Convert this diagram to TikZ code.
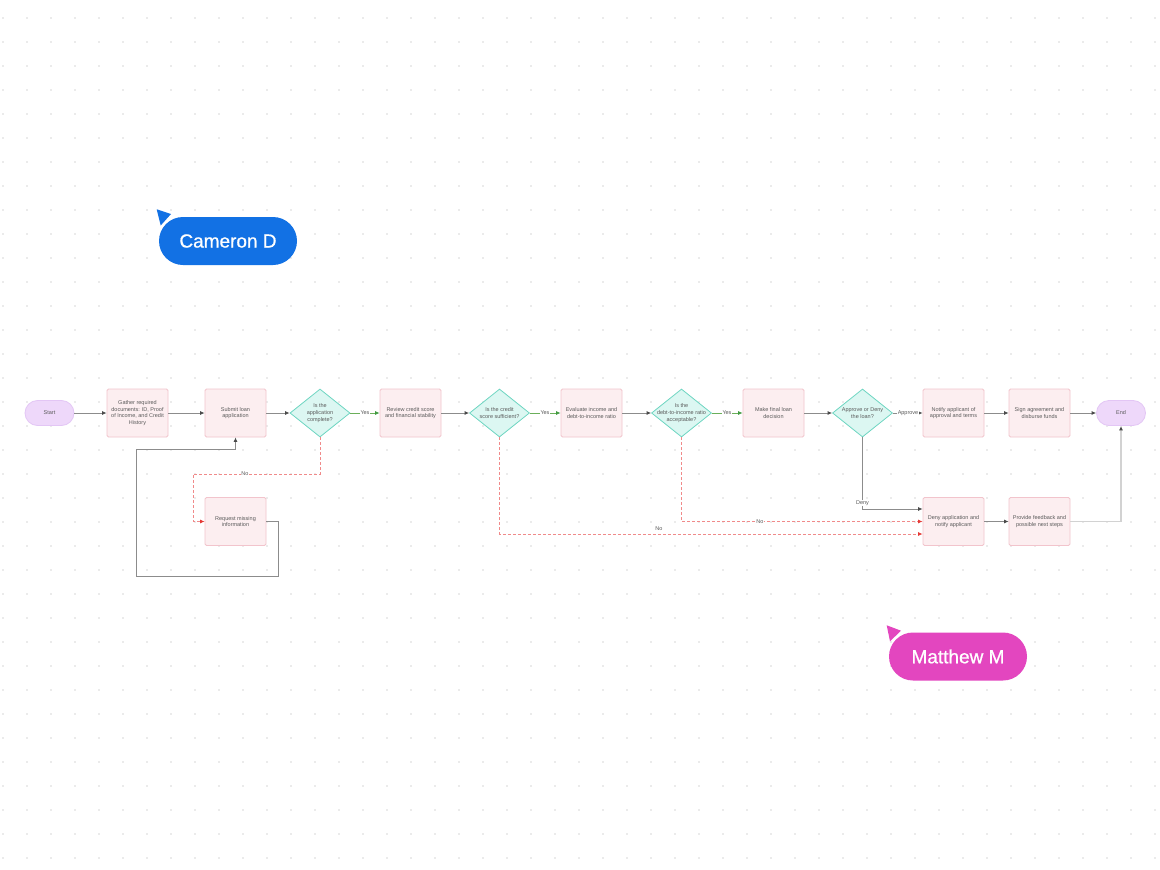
\documentclass[tikz,border=0pt]{standalone}
\usepackage{fontspec}
\setmainfont{Liberation Sans}
\newfontfamily\tagfont[FakeBold=0.8]{Liberation Sans}
\usetikzlibrary{arrows.meta,shapes.geometric,calc}
\definecolor{boxfill}{HTML}{FCEEF0}
\definecolor{boxline}{HTML}{F2C4CC}
\definecolor{diafill}{HTML}{DCF7F2}
\definecolor{dialine}{HTML}{6FD6C2}
\definecolor{termfill}{HTML}{EED8FA}
\definecolor{termline}{HTML}{E3C6F5}
\definecolor{linegray}{HTML}{8C8C8C}
\definecolor{arrowgray}{HTML}{4A4A4A}
\definecolor{lightline}{HTML}{D2D2D2}
\definecolor{greenline}{HTML}{6BAF5A}
\definecolor{greenarrow}{HTML}{3F9A3F}
\definecolor{redline}{HTML}{F08A8A}
\definecolor{redarrow}{HTML}{E53935}
\definecolor{txtgray}{HTML}{5A5A5A}
\definecolor{dotgray}{HTML}{ABABAB}
\definecolor{camblue}{HTML}{1271E4}
\definecolor{matpink}{HTML}{E346BF}
\tikzset{
  proc/.style={draw=boxline, fill=boxfill, line width=0.8pt, minimum width=61pt, minimum height=48pt, inner sep=0pt, rounded corners=1.5pt, align=center, text=txtgray, font=\fontsize{5.5}{6.6}\selectfont},
  dec/.style={diamond, draw=dialine, fill=diafill, line width=0.8pt, minimum width=60pt, minimum height=48pt, inner sep=0pt},
  dectext/.style={align=center, text=txtgray, font=\fontsize{5.5}{6.6}\selectfont, inner sep=0pt},
  term/.style={draw=termline, fill=termfill, line width=0.8pt, minimum width=49pt, minimum height=25pt, rounded corners=12.5pt, inner sep=0pt, text=txtgray, font=\fontsize{5.5}{6.6}\selectfont},
  conn/.style={draw=linegray, line width=0.8pt, -{Latex[length=4.5pt,width=4pt,color=arrowgray]}},
  yesconn/.style={draw=greenline, line width=0.8pt, -{Latex[length=4.5pt,width=4pt,color=greenarrow]}},
  noconn/.style={draw=redline, line width=0.8pt, dash pattern=on 3pt off 2pt, -{Latex[length=4.5pt,width=4pt,color=redarrow]}},
  endconn/.style={draw=lightline, line width=1.5pt, -{Latex[length=4.5pt,width=4pt,color=arrowgray]}},
  lab/.style={text=txtgray, font=\fontsize{5.5}{6.6}\selectfont, inner sep=0.6pt},
  labw/.style={lab, fill=white},
  tag/.style={text=white, font=\tagfont\fontsize{19}{22}\selectfont, minimum width=138pt, minimum height=48pt, rounded corners=24pt, inner sep=0pt}
}
\begin{document}
\begin{tikzpicture}[x=1pt,y=-1pt]
\useasboundingbox (0,0) rectangle (1160,870);
\fill[white] (0,0) rectangle (1160,870);
% dot grid
\foreach \i in {0,...,48}{
  \foreach \j in {0,...,35}{
    \fill[dotgray] (3+24*\i,18+24*\j) circle (0.7pt);
  }
}
% nodes
\node[term] (start) at (49.5,413) {Start};
\node[proc] (gather) at (137.5,413) {Gather required\\documents: ID, Proof\\of Income, and Credit\\History};
\node[proc] (submit) at (235.5,413) {Submit loan\\application};
\node[dec] (d1) at (320,413) {};
\node[dectext] (d1t) at (d1) {Is the\\application\\complete?};
\node[proc] (review) at (410.5,413) {Review credit score\\and financial stability};
\node[dec] (d2) at (499.5,413) {};
\node[dectext] (d2t) at (d2) {Is the credit\\score sufficient?};
\node[proc] (eval) at (591.5,413) {Evaluate income and\\debt-to-income ratio};
\node[dec] (d3) at (681.5,413) {};
\node[dectext] (d3t) at (d3) {Is the\\debt-to-income ratio\\acceptable?};
\node[proc] (make) at (773.5,413) {Make final loan\\decision};
\node[dec] (d4) at (862.5,413) {};
\node[dectext] (d4t) at (d4) {Approve or Deny\\the loan?};
\node[proc] (notify) at (953.5,413) {Notify applicant of\\approval and terms};
\node[proc] (sign) at (1039.5,413) {Sign agreement and\\disburse funds};
\node[term] (end) at (1121,413) {End};
\node[proc] (req) at (235.5,521.5) {Request missing\\information};
\node[proc] (deny) at (953.5,521.5) {Deny application and\\notify applicant};
\node[proc] (prov) at (1039.5,521.5) {Provide feedback and\\possible next steps};
% helper coordinates
\coordinate (n1) at (193,474);
\coordinate (l1) at (278,576);
\coordinate (l2) at (136,449.5);
% main flow
\draw[conn] (start.east) -- (gather.west);
\draw[conn] (gather.east) -- (submit.west);
\draw[conn] (submit.east) -- (d1.west);
\draw[yesconn] (d1.east) -- (review.west);
\node[labw] (y1) at (365,413) {Yes};
\draw[conn] (review.east) -- (d2.west);
\draw[yesconn] (d2.east) -- (eval.west);
\node[labw] (y2) at (545,413) {Yes};
\draw[conn] (eval.east) -- (d3.west);
\draw[yesconn] (d3.east) -- (make.west);
\node[labw] (y3) at (727,413) {Yes};
\draw[conn] (make.east) -- (d4.west);
\draw[conn] (d4.east) -- (notify.west);
\node[labw] (ap) at (908,413) {Approve};
\draw[conn] (notify.east) -- (sign.west);
\draw[conn] (sign.east) -- (end.west);
% no branches
\draw[noconn] (d1.south) |- (n1) |- (req.west);
\node[labw] (no1) at (245,474) {No};
\draw[conn] (req.east) -| (l1) -| (l2) -| (submit.south);
\draw[noconn] (d2.south) |- ($(deny.west)+(0,12.5)$);
\node[lab] (no2) at (659,529) {No};
\draw[noconn] (d3.south) |- (deny.west);
\node[labw] (no3) at (760,521.5) {No};
\draw[conn] (d4.south) |- ($(deny.west)+(0,-12.5)$);
\node[labw] (dn) at (862.5,503) {Deny};
\draw[conn] (deny.east) -- (prov.west);
\draw[endconn] (prov.east) -| (end.south);
% user tags
\fill[camblue] (156.7,209.3) -- (171,214) -- (160.7,225.5) -- cycle;
\node[tag, fill=camblue] (cam) at (228,241) {Cameron D};
\fill[matpink] (886.7,625.3) -- (901,630.7) -- (890,641.3) -- cycle;
\node[tag, fill=matpink] (mat) at (958,656.5) {Matthew M};
\end{tikzpicture}
\end{document}
